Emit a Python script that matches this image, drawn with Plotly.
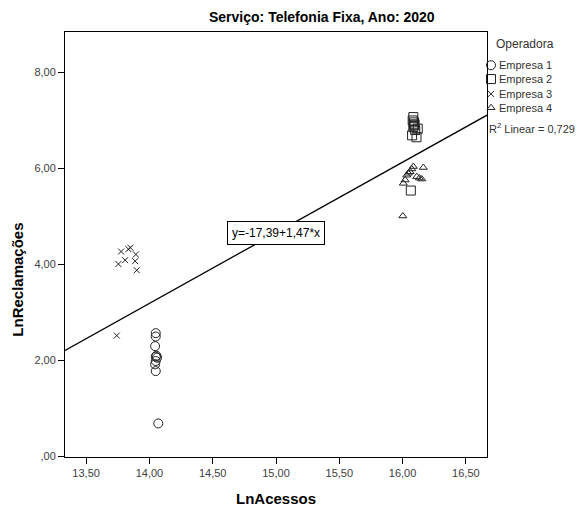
import numpy as np
import plotly.graph_objects as go

W, H = 577, 510
# plot area edges in pixels (left, right, top, bottom)
L, R, T, B = 65, 487, 32, 462

X_RANGE = [13.333, 16.667]
Y_RANGE = [0.0, 8.85]

x_tickvals = [13.5, 14.0, 14.5, 15.0, 15.5, 16.0, 16.5]
x_ticktext = ["13,50", "14,00", "14,50", "15,00", "15,50", "16,00", "16,50"]
y_tickvals = [0, 2, 4, 6, 8]
y_ticktext = [",00", "2,00", "4,00", "6,00", "8,00"]

# LnAcessos / LnReclamações per operator
emp1_x = [14.05, 14.05, 14.045, 14.055, 14.05, 14.06, 14.05, 14.045, 14.05, 14.07]
emp1_y = [2.57, 2.50, 2.30, 2.10, 2.08, 2.06, 1.99, 1.92, 1.78, 0.69]

emp2_x = [16.085, 16.09, 16.085, 16.12, 16.075, 16.11, 16.08, 16.095, 16.10, 16.09, 16.065]
emp2_y = [7.07, 6.96, 6.86, 6.83, 6.69, 6.65, 7.00, 6.92, 6.80, 6.90, 5.54]

emp3_x = [13.776, 13.834, 13.85, 13.893, 13.808, 13.755, 13.887, 13.90, 13.742]
emp3_y = [4.27, 4.32, 4.35, 4.21, 4.09, 4.01, 4.07, 3.88, 2.52]

emp4_x = [16.085, 16.164, 16.033, 16.02, 16.006, 16.112, 16.133, 16.152, 16.06, 16.073, 16.002, 16.045]
emp4_y = [6.04, 6.02, 5.86, 5.76, 5.69, 5.83, 5.80, 5.78, 5.93, 5.99, 5.01, 5.90]

# fitted line
intercept, slope, r2 = -17.39, 1.47, 0.729

series = [
    ("Empresa 1", emp1_x, emp1_y, "circle-open", 9),
    ("Empresa 2", emp2_x, emp2_y, "square-open", 9),
    ("Empresa 3", emp3_x, emp3_y, "x-thin-open", 6),
    ("Empresa 4", emp4_x, emp4_y, "triangle-up-open", 7),
]

FONT = "Liberation Sans, Arial, sans-serif"
INK = "#222222"


def px_x(p):
    return p / W


def px_y(p):
    return 1 - p / H


fig = go.Figure()

for name, xs, ys, sym, size in series:
    fig.add_trace(go.Scatter(
        x=xs, y=ys, mode="markers", name=name, showlegend=False,
        marker=dict(symbol=sym, size=size, color=INK, line=dict(color=INK, width=1)),
        xaxis="x", yaxis="y",
    ))

fx = np.array(X_RANGE)
fig.add_trace(go.Scatter(
    x=fx, y=intercept + slope * fx, mode="lines", showlegend=False,
    line=dict(color="black", width=1.3), xaxis="x", yaxis="y",
))

# hand-built legend on a pixel-scaled helper axis
leg_x = 491
leg_y = [66, 80, 95, 109]
for (name, xs, ys, sym, size), ly in zip(series, leg_y):
    fig.add_trace(go.Scatter(
        x=[leg_x], y=[ly], mode="markers", showlegend=False,
        marker=dict(symbol=sym, size=size, color=INK, line=dict(color=INK, width=1)),
        xaxis="x2", yaxis="y2", cliponaxis=False,
    ))


def label(text, px, py, size, color="#333333", xanchor="center", **kw):
    return dict(text=text, x=px_x(px), y=px_y(py), xref="paper", yref="paper",
                xanchor=xanchor, yanchor="middle", showarrow=False,
                font=dict(size=size, color=color), **kw)


annotations = [
    label("<b>Serviço: Telefonia Fixa, Ano: 2020</b>", 322, 17, 14, "black"),
    label("<b>LnAcessos</b>", 276, 504, 15, "black"),
    label("<b>LnReclamações</b>", 18, 283, 15, "black", textangle=-90),
    label("Operadora", 494, 45, 12, xanchor="left"),
    label("R<sup>2</sup> Linear = 0,729", 487, 130, 11, xanchor="left"),
    dict(text="y=-17,39+1,47*x", x=15.0, y=intercept + slope * 15.0, xref="x", yref="y",
         xanchor="center", yanchor="middle",
         showarrow=False, bgcolor="white", bordercolor="black", borderwidth=1, borderpad=4,
         font=dict(size=12, color="black")),
]
for (name, *_), ly in zip(series, leg_y):
    annotations.append(label(name, 497, ly, 11, xanchor="left"))

fig.update_layout(
    width=W, height=H,
    margin=dict(l=0, r=0, t=0, b=0),
    paper_bgcolor="white", plot_bgcolor="rgba(0,0,0,0)",
    font=dict(family=FONT, size=11, color="#333333"),
    showlegend=False,
    xaxis=dict(
        domain=[L / W, R / W], range=X_RANGE, tickvals=x_tickvals, ticktext=x_ticktext,
        showgrid=False, zeroline=False, showline=True, linecolor="black", linewidth=1,
        mirror=True, ticks="outside", ticklen=6, tickcolor="black",
        tickfont=dict(size=11, color="#404040"), anchor="y",
    ),
    yaxis=dict(
        domain=[1 - B / H, 1 - T / H], range=Y_RANGE, tickvals=y_tickvals, ticktext=y_ticktext,
        showgrid=False, zeroline=False, showline=True, linecolor="black", linewidth=1,
        mirror=True, ticks="outside", ticklen=6, tickcolor="black",
        tickfont=dict(size=11, color="#404040"), anchor="x",
    ),
    xaxis2=dict(domain=[0, 1], range=[0, W], visible=False, anchor="y2", fixedrange=True),
    yaxis2=dict(domain=[0, 1], range=[H, 0], visible=False, anchor="x2", fixedrange=True),
    annotations=annotations,
)

fig.write_html("out.html")
